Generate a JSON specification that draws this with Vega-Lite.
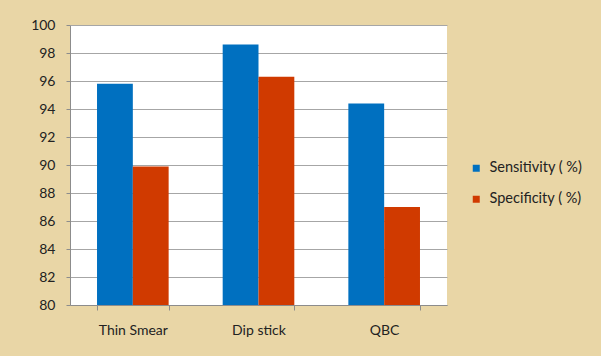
{
  "$schema": "https://vega.github.io/schema/vega-lite/v6.json",
  "width": 377,
  "height": 280,
  "autosize": {"type": "none"},
  "padding": {"left": 70, "top": 25, "right": 154, "bottom": 51},
  "background": "#E9D6A6",
  "data": {
    "values": [
      {"method": "Thin Smear", "measure": "Sensitivity ( %)", "value": 95.8},
      {"method": "Thin Smear", "measure": "Specificity ( %)", "value": 89.9},
      {"method": "Dip stick", "measure": "Sensitivity ( %)", "value": 98.6},
      {"method": "Dip stick", "measure": "Specificity ( %)", "value": 96.3},
      {"method": "QBC", "measure": "Sensitivity ( %)", "value": 94.4},
      {"method": "QBC", "measure": "Specificity ( %)", "value": 87.0}
    ]
  },
  "mark": {"type": "bar"},
  "encoding": {
    "x": {
      "field": "method",
      "type": "nominal",
      "sort": ["Thin Smear", "Dip stick", "QBC"],
      "scale": {"paddingInner": 0.43, "paddingOuter": 0.215},
      "axis": {
        "title": null,
        "labelAngle": 0,
        "tickBand": "extent",
        "tickSize": 5,
        "tickColor": "#8c8c8c",
        "domainColor": "#8c8c8c",
        "labelPadding": 13,
        "labelFont": "Lato",
        "labelFontSize": 14,
        "labelColor": "#222222"
      }
    },
    "xOffset": {
      "field": "measure",
      "type": "nominal",
      "scale": {"paddingInner": 0, "paddingOuter": 0}
    },
    "y": {
      "field": "value",
      "type": "quantitative",
      "scale": {"domain": [80, 100], "zero": false, "nice": false},
      "axis": {
        "title": null,
        "values": [80, 82, 84, 86, 88, 90, 92, 94, 96, 98, 100],
        "tickSize": 4,
        "tickColor": "#8c8c8c",
        "domainColor": "#8c8c8c",
        "gridColor": "#a6a6a6",
        "labelPadding": 11,
        "labelFont": "Lato",
        "labelFontSize": 14,
        "labelColor": "#222222"
      }
    },
    "y2": {"datum": 80},
    "color": {
      "field": "measure",
      "type": "nominal",
      "scale": {"domain": ["Sensitivity ( %)", "Specificity ( %)"], "range": ["#0070C0", "#D03A00"]},
      "legend": {
        "title": null,
        "orient": "none",
        "legendX": 399,
        "legendY": 136,
        "symbolType": "square",
        "symbolSize": 49,
        "symbolStrokeWidth": 0,
        "rowPadding": 16,
        "labelOffset": 6,
        "labelFont": "Lato",
        "labelFontSize": 14.5,
        "labelColor": "#222222"
      }
    }
  },
  "config": {
    "view": {"fill": "white", "stroke": null}
  }
}
